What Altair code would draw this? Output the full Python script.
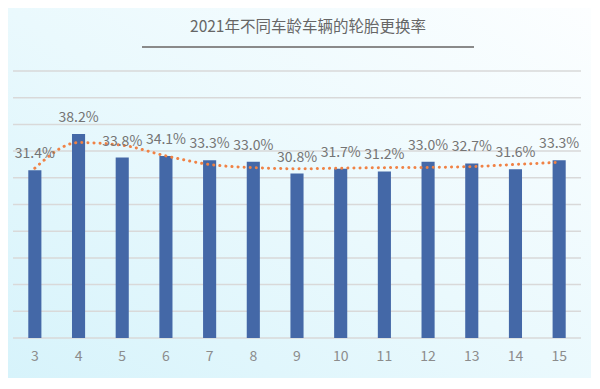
import altair as alt
import pandas as pd

ages = [str(i) for i in range(3, 16)]
rates = [31.4, 38.2, 33.8, 34.1, 33.3, 33.0, 30.8, 31.7, 31.2, 33.0, 32.7, 31.6, 33.3]
trend = [31.8, 36.6, 36.1, 34.1, 32.5, 31.9, 31.7, 31.8, 31.9, 31.95, 32.1, 32.5, 32.9]
title_text = "2021年不同车龄车辆的轮胎更换率"
y_ticks = list(range(0, 55, 5))

df = pd.DataFrame({
    "age": ages,
    "rate": rates,
    "trend": trend,
    "label": [f"{v:.1f}%" for v in rates],
})
gdf = pd.DataFrame({"g": y_ticks})

FONT = "Noto Sans CJK SC"

x = alt.X(
    "age:N", sort=ages,
    scale=alt.Scale(paddingInner=0.7, paddingOuter=0.35),
    axis=alt.Axis(title=None, labelAngle=0, ticks=False, domain=False,
                  labelPadding=11, labelFontSize=14, labelColor="#8c8c8c",
                  labelFont=FONT, grid=False, zindex=1),
)
yscale = alt.Scale(domain=[0, 50], nice=False)

bg = alt.Chart(pd.DataFrame({"t": [0]})).mark_rect(
    color=alt.LinearGradient(
        gradient="linear", x1=0, y1=1, x2=1, y2=0,
        stops=[alt.GradientStop(color="#d6f3fb", offset=0),
               alt.GradientStop(color="#eaf9fd", offset=0.5),
               alt.GradientStop(color="#fcfeff", offset=1)],
    )
).encode(x=alt.value(-5), x2=alt.value(578), y=alt.value(-63), y2=alt.value(318))

grid = alt.Chart(gdf).mark_rule(color="#d9d9d9", strokeWidth=1.5).encode(
    y=alt.Y("g:Q", scale=yscale, axis=None),
    x=alt.value(0), x2=alt.value(568),
)

base = alt.Chart(df)
bars = base.mark_bar(color="#4468a7").encode(
    x=x, y=alt.Y("rate:Q", scale=yscale, axis=None))
trendline = base.mark_line(
    color="#f08245", strokeWidth=3, strokeDash=[0.1, 6], strokeCap="round",
    interpolate="monotone",
).encode(x=x, y=alt.Y("trend:Q", scale=yscale, axis=None))
labels = base.mark_text(
    dy=-12, baseline="alphabetic", fontSize=14, color="#747474", font=FONT,
).encode(x=x, y=alt.Y("rate:Q", scale=yscale, axis=None), text="label:N")

tdf = pd.DataFrame({"t": [title_text]})
title = alt.Chart(tdf).mark_text(
    fontSize=15.5, color="#666666", font=FONT, baseline="middle", align="center",
).encode(x=alt.value(295), y=alt.value(-44), text="t:N")
underline = alt.Chart(tdf).mark_rule(color="#8a8a8a", strokeWidth=2).encode(
    x=alt.value(129), x2=alt.value(461), y=alt.value(-24)
)

chart = alt.layer(bg, grid, bars, trendline, labels, title, underline).properties(
    width=568, height=267,
    autosize=alt.AutoSizeParams(type="none"),
    padding={"left": 5, "top": 63, "right": 10, "bottom": 40},
    background="#f4fbfd",
).configure_view(stroke=None)

chart.save("out.html", embed_options={"renderer": "svg", "actions": False})
